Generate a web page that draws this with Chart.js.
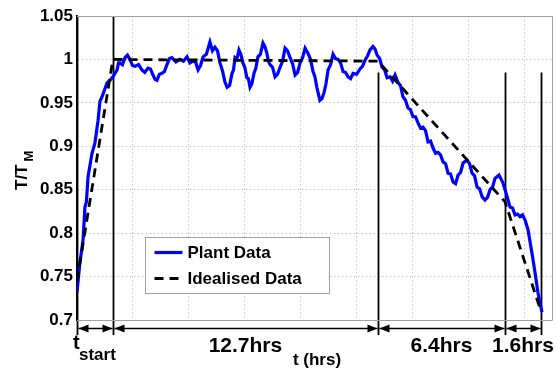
<!DOCTYPE html>
<html>
<head>
<meta charset="utf-8">
<script src="https://cdn.jsdelivr.net/npm/chart.js@4.4.0/dist/chart.umd.min.js"></script>
<style>
html, body { margin: 0; padding: 0; background: #fff; }
#wrap { width: 557px; height: 371px; }
</style>
</head>
<body>
<div id="wrap"><canvas id="chart" width="557" height="371"></canvas></div>
<script>
// plant measurements, time in hours, T/TM (10 per row)
var plantT = [
	0.00, 0.14, 0.29, 0.38, 0.45, 0.53, 0.72, 0.86, 1.01, 1.10,
	1.20, 1.44, 1.58, 1.72, 1.92, 1.99, 2.06, 2.18, 2.30, 2.42,
	2.54, 2.66, 2.78, 2.95, 3.11, 3.25, 3.40, 3.52, 3.64, 3.74,
	3.83, 3.95, 4.07, 4.19, 4.31, 4.43, 4.55, 4.74, 4.93, 5.10,
	5.27, 5.41, 5.56, 5.68, 5.80, 5.92, 6.04, 6.20, 6.37, 6.49,
	6.61, 6.73, 6.85, 6.97, 7.09, 7.19, 7.31, 7.43, 7.50, 7.57,
	7.66, 7.76, 7.85, 7.95, 8.04, 8.14, 8.21, 8.29, 8.38, 8.48,
	8.57, 8.67, 8.79, 8.91, 9.00, 9.10, 9.17, 9.25, 9.37, 9.49,
	9.61, 9.73, 9.85, 9.97, 10.09, 10.21, 10.33, 10.45, 10.57, 10.69,
	10.81, 10.93, 11.07, 11.19, 11.31, 11.40, 11.50, 11.64, 11.74, 11.84,
	11.93, 12.03, 12.15, 12.27, 12.39, 12.51, 12.63, 12.75, 12.87, 12.99,
	13.11, 13.23, 13.40, 13.56, 13.68, 13.80, 13.92, 14.04, 14.18, 14.28,
	14.38, 14.50, 14.62, 14.74, 14.86, 15.00, 15.12, 15.24, 15.39, 15.50,
	15.62, 15.74, 15.86, 15.98, 16.10, 16.22, 16.34, 16.46, 16.58, 16.70,
	16.82, 16.94, 17.06, 17.18, 17.30, 17.42, 17.54, 17.66, 17.78, 17.90,
	18.02, 18.14, 18.26, 18.38, 18.50, 18.69, 18.81, 18.93, 19.05, 19.17,
	19.29, 19.41, 19.55, 19.67, 19.79, 19.91, 20.03, 20.22, 20.41, 20.61,
	20.75, 20.87, 20.99, 21.11, 21.23, 21.35, 21.47, 21.61, 21.80, 21.95,
	22.09, 22.28];
var plantV = [
	0.732, 0.766, 0.792, 0.830, 0.836, 0.865, 0.892, 0.904, 0.930, 0.952,
	0.957, 0.973, 0.976, 0.980, 0.988, 0.996, 0.996, 0.994, 1.002, 1.005,
	1.000, 0.993, 0.992, 0.994, 0.988, 0.985, 0.990, 0.989, 0.982, 0.977,
	0.976, 0.983, 0.984, 0.986, 0.994, 1.001, 1.002, 0.997, 1.000, 0.998,
	1.003, 0.996, 0.998, 0.997, 0.988, 0.993, 1.003, 1.006, 1.020, 1.010,
	1.014, 1.010, 0.996, 0.987, 0.974, 0.968, 0.970, 0.984, 0.988, 1.002,
	1.000, 1.011, 1.006, 0.996, 0.991, 0.979, 0.978, 0.968, 0.972, 0.984,
	0.990, 1.003, 1.006, 1.019, 1.015, 1.007, 0.998, 0.994, 0.991, 0.980,
	0.983, 0.991, 0.998, 1.013, 1.010, 1.002, 0.995, 0.982, 0.985, 0.996,
	1.002, 1.013, 1.007, 1.000, 0.986, 0.980, 0.967, 0.953, 0.955, 0.962,
	0.972, 0.988, 0.994, 1.006, 1.001, 1.000, 0.996, 0.986, 0.985, 0.980,
	0.978, 0.984, 0.983, 0.989, 0.992, 0.999, 1.004, 1.011, 1.015, 1.012,
	1.005, 1.001, 0.991, 0.988, 0.979, 0.980, 0.975, 0.982, 0.973, 0.970,
	0.957, 0.953, 0.944, 0.942, 0.934, 0.934, 0.927, 0.921, 0.922, 0.918,
	0.905, 0.906, 0.898, 0.892, 0.893, 0.890, 0.882, 0.880, 0.869, 0.868,
	0.859, 0.857, 0.867, 0.870, 0.881, 0.884, 0.880, 0.869, 0.866, 0.853,
	0.851, 0.842, 0.838, 0.841, 0.850, 0.853, 0.863, 0.867, 0.858, 0.842,
	0.830, 0.829, 0.821, 0.822, 0.819, 0.821, 0.815, 0.804, 0.777, 0.754,
	0.731, 0.709];

// idealised profile
var idealT = [0, 1.72, 14.42, 20.51, 22.23];
var idealV = [0.745, 1.0, 0.998, 0.836, 0.71];

// phase boundaries (hours) and their labels
var phaseT = [0, 1.72, 14.42, 20.51, 22.23];
var phaseTop = [1.05, 1.05, 0.985, 0.985, 0.985];
var phaseLabels = ['', '12.7hrs', '6.4hrs', '1.6hrs'];

var yMin = 0.7, yMax = 1.05, yStep = 0.05;
var tMax = 22.76, gridHours = 2.683;

function pts(xs, ys) {
	return xs.map(function (x, i) { return { x: x, y: ys[i] }; });
}

var FONT = 'Liberation Sans, Arial, sans-serif';

var annot = {
	id: 'annot',
	beforeDatasetsDraw: function (chart) {
		var ctx = chart.ctx, xs = chart.scales.x, ys = chart.scales.y, a = chart.chartArea;
		ctx.save();
		ctx.strokeStyle = '#000';
		ctx.lineWidth = 1.8;
		phaseT.forEach(function (t, i) {
			var px = Math.round(xs.getPixelForValue(t)) + 0.5;
			ctx.beginPath();
			ctx.moveTo(px, ys.getPixelForValue(phaseTop[i]));
			ctx.lineTo(px, a.bottom + 15);
			ctx.stroke();
		});
		ctx.restore();
	},
	afterDraw: function (chart) {
		var ctx = chart.ctx, xs = chart.scales.x, a = chart.chartArea;
		ctx.save();
		// box
		ctx.strokeStyle = '#a0a0a0';
		ctx.lineWidth = 1;
		ctx.beginPath();
		ctx.moveTo(a.left, a.top + 0.5); ctx.lineTo(a.right + 0.5, a.top + 0.5);
		ctx.lineTo(a.right + 0.5, a.bottom + 0.5); ctx.lineTo(a.left, a.bottom + 0.5);
		ctx.stroke();

		// arrows between phases
		var ay = a.bottom + 8.5;
		ctx.strokeStyle = '#000';
		ctx.fillStyle = '#000';
		ctx.lineWidth = 1.6;
		for (var i = 0; i < phaseT.length - 1; i++) {
			var x1 = Math.round(xs.getPixelForValue(phaseT[i])) + 1.5;
			var x2 = Math.round(xs.getPixelForValue(phaseT[i + 1])) - 0.5;
			ctx.beginPath(); ctx.moveTo(x1, ay); ctx.lineTo(x2, ay); ctx.stroke();
			ctx.beginPath(); ctx.moveTo(x1, ay); ctx.lineTo(x1 + 10, ay - 4); ctx.lineTo(x1 + 10, ay + 4); ctx.closePath(); ctx.fill();
			ctx.beginPath(); ctx.moveTo(x2, ay); ctx.lineTo(x2 - 10, ay - 4); ctx.lineTo(x2 - 10, ay + 4); ctx.closePath(); ctx.fill();
			if (phaseLabels[i]) {
				var cx = (xs.getPixelForValue(phaseT[i]) + xs.getPixelForValue(phaseT[i + 1])) / 2;
				ctx.font = 'bold 21px ' + FONT;
				ctx.textAlign = 'center';
				ctx.textBaseline = 'alphabetic';
				ctx.fillText(phaseLabels[i], Math.min(cx, 526), a.bottom + 32);
			}
		}

		// t_start
		ctx.textAlign = 'left';
		ctx.font = 'bold 20px ' + FONT;
		ctx.fillText('t', a.left - 4, a.bottom + 29);
		ctx.font = 'bold 17px ' + FONT;
		ctx.fillText('start', a.left + 2, a.bottom + 40);

		// x title
		ctx.textAlign = 'center';
		ctx.fillText('t (hrs)', 317, a.bottom + 45);

		// y title
		ctx.save();
		ctx.translate(27, 190);
		ctx.rotate(-Math.PI / 2);
		ctx.textAlign = 'left';
		ctx.font = 'bold 17px ' + FONT;
		ctx.fillText('T/T', 0, 0);
		var w = ctx.measureText('T/T').width;
		ctx.font = 'bold 13px ' + FONT;
		ctx.fillText('M', w + 3, 6);
		ctx.restore();

		// legend
		var ds = chart.data.datasets;
		var lx = 145.5, ly = 237.5, lw = 184, lh = 56;
		ctx.fillStyle = '#fff';
		ctx.fillRect(lx, ly, lw, lh);
		ctx.strokeStyle = '#a0a0a0';
		ctx.lineWidth = 1;
		ctx.strokeRect(lx, ly, lw, lh);
		[ds[1], ds[0]].forEach(function (d, k) {
			var yy = ly + 15 + k * 26;
			ctx.strokeStyle = d.borderColor;
			ctx.lineWidth = d.borderWidth;
			ctx.setLineDash(d.borderDash || []);
			ctx.beginPath(); ctx.moveTo(lx + 9, yy); ctx.lineTo(lx + 37, yy); ctx.stroke();
			ctx.setLineDash([]);
			ctx.fillStyle = '#000';
			ctx.font = 'bold 17px ' + FONT;
			ctx.textAlign = 'left';
			ctx.textBaseline = 'middle';
			ctx.fillText(d.label, lx + 42, yy + 1);
		});
		ctx.restore();
	}
};

new Chart(document.getElementById('chart'), {
	type: 'line',
	data: {
		datasets: [{
			label: 'Idealised Data',
			data: pts(idealT, idealV),
			borderColor: '#000000',
			borderWidth: 2.8,
			borderDash: [9, 6],
			pointRadius: 0,
			order: 0
		}, {
			label: 'Plant Data',
			data: pts(plantT, plantV),
			borderColor: '#0000ff',
			borderWidth: 3.2,
			pointRadius: 0,
			order: 1
		}]
	},
	options: {
		responsive: false,
		animation: false,
		devicePixelRatio: 1,
		layout: { padding: { top: 16, right: 5, left: 0, bottom: 0 } },
		plugins: { legend: { display: false }, tooltip: { enabled: false } },
		elements: { line: { tension: 0, fill: false } },
		scales: {
			x: {
				type: 'linear',
				min: 0,
				max: tMax,
				afterBuildTicks: function (scale) {
					var t = [];
					for (var v = 0; v <= tMax; v += gridHours) t.push({ value: v });
					scale.ticks = t;
				},
				afterFit: function (scale) { scale.height = 51; },
				ticks: { display: false },
				grid: { color: '#c4c4c4', lineWidth: 1, drawTicks: false },
				border: { display: false, dash: [1.5, 2.5] }
			},
			y: {
				min: yMin,
				max: yMax,
				afterFit: function (scale) { scale.width = 77; },
				ticks: {
					stepSize: yStep,
					padding: 4,
					color: '#000',
					font: { family: FONT, size: 17, weight: 'bold' },
					callback: function (v) { return String(parseFloat(v.toFixed(2))); }
				},
				grid: { color: '#c4c4c4', lineWidth: 1, drawTicks: false },
				border: { display: true, color: '#000', width: 1.8, dash: [1.5, 2.5] }
			}
		}
	},
	plugins: [annot]
});
</script>
</body>
</html>
